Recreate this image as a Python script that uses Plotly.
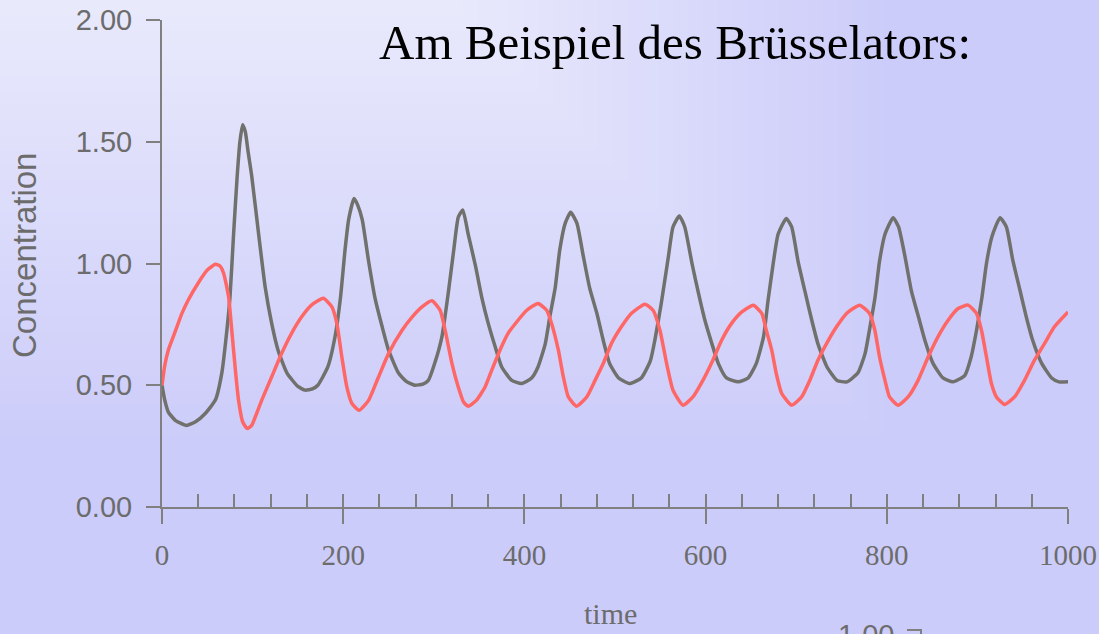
import plotly.graph_objects as go

# Brusselator time series
time_x = [0, 3, 7, 15, 27, 37, 48, 59, 66, 70, 75, 79, 83, 86, 89, 92, 95, 99, 107, 114,
          121, 128, 138, 150, 158, 166, 172, 183, 191, 197, 202, 206, 212, 216, 221, 228,
          235, 243, 250, 261, 270, 279, 288, 294, 301, 309, 316, 322, 327, 332, 338, 346,
          353, 360, 368, 375, 386, 397, 408, 415, 423, 428, 434, 439, 445, 451, 458, 465,
          472, 480, 487, 494, 504, 516, 529, 539, 544, 551, 559, 564, 571, 577, 585, 592,
          599, 607, 614, 623, 636, 647, 656, 664, 669, 675, 680, 689, 695, 702, 710, 717,
          724, 734, 745, 756, 768, 776, 781, 787, 792, 798, 807, 813, 820, 827, 835, 842,
          851, 862, 873, 886, 893, 899, 905, 910, 916, 925, 932, 939, 947, 954, 961, 971,
          982, 990, 1000]
conc_x = [0.50, 0.44, 0.39, 0.355, 0.335, 0.35, 0.385, 0.44, 0.55, 0.67, 0.86, 1.12, 1.36,
          1.50, 1.57, 1.54, 1.46, 1.36, 1.11, 0.90, 0.755, 0.645, 0.55, 0.495, 0.48, 0.485,
          0.50, 0.575, 0.70, 0.86, 1.055, 1.18, 1.267, 1.24, 1.18, 1.01, 0.86, 0.74, 0.645,
          0.55, 0.515, 0.50, 0.505, 0.52, 0.59, 0.70, 0.88, 1.055, 1.19, 1.22, 1.12, 0.99,
          0.86, 0.755, 0.655, 0.575, 0.52, 0.507, 0.53, 0.575, 0.67, 0.78, 0.90, 1.055,
          1.165, 1.21, 1.165, 1.03, 0.90, 0.795, 0.685, 0.59, 0.53, 0.507, 0.53, 0.60, 0.685,
          0.835, 1.03, 1.15, 1.195, 1.15, 1.00, 0.88, 0.77, 0.67, 0.59, 0.53, 0.514, 0.53,
          0.59, 0.70, 0.85, 1.01, 1.12, 1.185, 1.15, 1.01, 0.88, 0.77, 0.67, 0.575, 0.52,
          0.514, 0.55, 0.63, 0.73, 0.86, 1.01, 1.12, 1.188, 1.15, 1.03, 0.89, 0.78, 0.685,
          0.59, 0.53, 0.514, 0.54, 0.615, 0.725, 0.86, 1.00, 1.11, 1.188, 1.15, 1.015, 0.89,
          0.78, 0.685, 0.59, 0.53, 0.514, 0.514]

time_y = [0, 3, 7, 15, 22, 29, 40, 50, 59, 64, 68, 73.5, 77, 81, 84.5, 89, 94, 99, 103, 110,
          121, 132, 143, 154, 165, 178, 187.5, 193, 198.5, 204, 209.6, 217.6, 228, 239, 250,
          265, 276, 287, 298, 307, 312.5, 320, 327, 333, 338, 347, 356.6, 364, 373, 382, 393,
          402.6, 415, 424.6, 430, 437.5, 443, 448.5, 457.7, 468.8, 478, 487, 496, 507, 518,
          533, 542, 549.6, 557, 564, 575, 586, 597, 608, 617.7, 628.7, 640, 652.6, 662, 667,
          673, 678, 684, 695, 706, 715, 724, 733.5, 744.5, 755.6, 770, 781, 786.8, 792, 798,
          803, 812.5, 823.5, 834.5, 845.6, 856.6, 867.7, 878.7, 889.7, 899, 904.5, 910, 915.5,
          921, 930, 941, 952, 963, 974, 985, 1000]
conc_y = [0.50, 0.58, 0.645, 0.725, 0.795, 0.85, 0.92, 0.973, 0.997, 0.99, 0.96, 0.863,
          0.726, 0.562, 0.438, 0.35, 0.322, 0.335, 0.37, 0.438, 0.534, 0.63, 0.713, 0.78,
          0.829, 0.857, 0.822, 0.754, 0.616, 0.493, 0.425, 0.397, 0.438, 0.534, 0.63, 0.726,
          0.78, 0.822, 0.847, 0.808, 0.726, 0.59, 0.493, 0.43, 0.414, 0.438, 0.493, 0.562,
          0.644, 0.713, 0.767, 0.808, 0.836, 0.808, 0.754, 0.644, 0.534, 0.452, 0.414, 0.452,
          0.52, 0.589, 0.671, 0.74, 0.795, 0.833, 0.808, 0.726, 0.589, 0.48, 0.418, 0.452,
          0.52, 0.603, 0.685, 0.754, 0.801, 0.829, 0.795, 0.726, 0.644, 0.548, 0.466, 0.418,
          0.452, 0.52, 0.603, 0.671, 0.74, 0.795, 0.829, 0.795, 0.726, 0.616, 0.52, 0.452,
          0.418, 0.452, 0.52, 0.616, 0.70, 0.767, 0.815, 0.829, 0.795, 0.726, 0.616, 0.507,
          0.452, 0.421, 0.452, 0.52, 0.603, 0.671, 0.74, 0.801]

W, H = 1099, 634
L, R, T, B = 162, 31, 20, 127
PW, PH = W - L - R, H - T - B


def px(x):
    return (x - L) / PW


def py(y):
    return 1 - (y - T) / PH


AXIS = "rgb(128,128,128)"
LABEL = "rgb(108,108,108)"
SANS = "Liberation Sans, Arial, sans-serif"
SERIF = "Liberation Serif, Times New Roman, serif"

fig = go.Figure()
fig.add_trace(go.Scatter(x=time_x, y=conc_x, mode="lines",
                         line=dict(color="rgb(112,112,108)", width=3.5, shape="spline", smoothing=0.5)))
fig.add_trace(go.Scatter(x=time_y, y=conc_y, mode="lines",
                         line=dict(color="rgb(255,102,102)", width=3.5, shape="spline", smoothing=0.5)))
# empty trace so the overlay axis carrying the small inner ticks gets drawn
fig.add_trace(go.Scatter(x=[], y=[], xaxis="x2", hoverinfo="skip"))

# background: nested rectangles from the top-left, lighter towards the corner
c_out = (204, 204, 250)
c_in = (234, 234, 252)
n = 30
shapes = []
for i in range(n + 1):
    d = 450 * (1 - i / n)
    f = i / n
    col = tuple(round(c_out[k] + (c_in[k] - c_out[k]) * f) for k in range(3))
    shapes.append(dict(type="rect", xref="paper", yref="paper", layer="below",
                       x0=px(-5), x1=px(448 + d), y0=py(d), y1=py(-5),
                       line=dict(width=0), fillcolor="rgb(%d,%d,%d)" % col))
# top of the next chart's axis, cut off at the bottom edge
shapes.append(dict(type="path", xref="paper", yref="paper",
                   path="M %f %f L %f %f L %f %f" % (px(907), py(630), px(921), py(630), px(921), py(640)),
                   line=dict(color=AXIS, width=2)))

fig.update_layout(
    width=W, height=H,
    margin=dict(l=L, r=R, t=T, b=B, autoexpand=False),
    paper_bgcolor="rgb(204,204,250)",
    plot_bgcolor="rgba(0,0,0,0)",
    showlegend=False,
    shapes=shapes,
    xaxis=dict(range=[0, 1000], tickvals=[0, 200, 400, 600, 800, 1000], automargin=False,
               ticks="outside", ticklen=15, tickwidth=2, tickcolor=AXIS,
               showline=True, linecolor=AXIS, linewidth=2, showgrid=False, zeroline=False,
               tickfont=dict(family=SERIF, size=29, color=LABEL), ticklabelstandoff=6),
    xaxis2=dict(range=[0, 1000], overlaying="x", anchor="y", side="bottom", automargin=False,
                tick0=0, dtick=40, ticks="inside", ticklen=13, tickwidth=2, tickcolor=AXIS,
                showticklabels=False, showline=False, showgrid=False, zeroline=False),
    yaxis=dict(range=[0, 2], tickvals=[0, 0.5, 1, 1.5, 2], tickformat=".2f", automargin=False,
               ticks="outside", ticklen=14, tickwidth=2, tickcolor=AXIS,
               showline=True, linecolor=AXIS, linewidth=2, showgrid=False, zeroline=False,
               tickfont=dict(family=SANS, size=29, color=LABEL), ticklabelstandoff=8),
    annotations=[
        dict(text="Am Beispiel des Brüsselators:", xref="paper", yref="paper",
             x=px(675), y=py(42), xanchor="center", yanchor="middle", showarrow=False,
             font=dict(family=SERIF, size=49, color="black")),
        dict(text="Concentration", xref="paper", yref="paper", textangle=-90,
             x=px(24), y=py(256), xanchor="center", yanchor="middle", showarrow=False,
             font=dict(family=SANS, size=33, color=LABEL)),
        dict(text="time", xref="paper", yref="paper",
             x=px(610), y=py(613), xanchor="center", yanchor="middle", showarrow=False,
             font=dict(family=SERIF, size=30, color=LABEL)),
        dict(text="1.00", xref="paper", yref="paper",
             x=px(866), y=py(617), xanchor="center", yanchor="top", showarrow=False,
             font=dict(family=SANS, size=29, color=LABEL)),
    ],
)

fig.write_html("out.html", config={"displayModeBar": False},
               post_script="document.body.style.margin='0';"
                           "document.documentElement.style.overflow='hidden';")
